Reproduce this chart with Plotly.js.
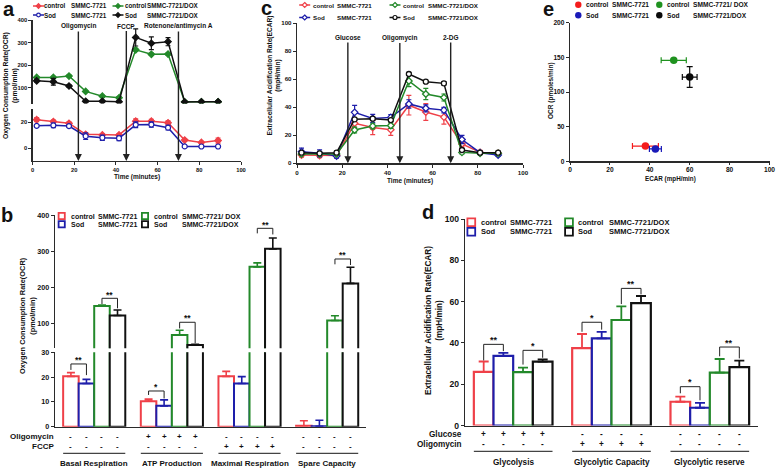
<!DOCTYPE html>
<html><head><meta charset="utf-8">
<script src="https://cdn.plot.ly/plotly-3.0.1.min.js"></script>
<style>html,body{margin:0;padding:0;background:#fff}#chart{width:778px;height:469px}</style>
</head><body><div id="chart"></div>
<script>
// ================= DATA =================
const timeMin = [2, 10, 17.5, 25.5, 33.5, 41.5, 49.5, 57, 65, 73, 81, 89];

// panel a : OCR time course (pmol/min)
const ocrCtrl       = [22, 20.5, 19.2, 10.6, 10.2, 10.2, 20.8, 20.8, 19.6, 6.2, 4.4, 5.8];
const ocrCtrlErr    = [1.5, 1.2, 1, 1, 1, 1, 1.8, 1.5, 1.5, 1, 0.8, 2];
const ocrSod        = [17.2, 17.6, 17, 9.2, 8, 7.6, 18, 18.2, 15.8, 1.3, 1.2, 1.2];
const ocrSodErr     = [1, 1.8, 1, 2.5, 2, 1.8, 2.2, 2, 1.8, 0.5, 0.4, 0.4];
const ocrCtrlDox    = [146, 146, 152, 84, 63, 56, 268, 248, 249, 38, 38, 38];
const ocrCtrlDoxErr = [4, 5, 4, 4, 4, 4, 6, 5, 5, 3, 3, 3];
const ocrSodDox     = [131, 127, 108, 40, 40, 38, 323, 297, 304, 37, 38, 38];
const ocrSodDoxErr  = [5, 15, 5, 4, 4, 4, 38, 28, 18, 3, 3, 3];
const aInjections   = ['Oligomycin', 'FCCP', 'Rotenone/antimycin A'];
const aInjectTime   = [22, 45, 70];

// panel c : ECAR time course (mpH/min)
const ecarCtrl       = [5.9, 5.5, 5.5, 28.6, 25.5, 24, 41.5, 36.6, 33, 13.8, 7.8, 7.1];
const ecarCtrlErr    = [1.5, 1.5, 1, 3, 5, 4, 7, 6, 5, 2, 1.5, 1];
const ecarSod        = [8.3, 7.1, 5.2, 36.4, 32, 32.8, 42.4, 39.3, 38, 17, 7.6, 5.9];
const ecarSodErr     = [2.5, 2.5, 1.5, 5, 3, 2, 3, 2.5, 2, 3, 1, 1];
const ecarCtrlDox    = [6.6, 6.6, 6.6, 23.8, 26.6, 27, 58.8, 49.5, 47, 7.8, 7.1, 7.1];
const ecarCtrlDoxErr = [1, 1, 1, 2, 2, 2, 4, 4, 2.5, 1, 1, 1];
const ecarSodDox     = [7.6, 7.1, 7.6, 31.4, 31.9, 30.9, 63.8, 58.3, 57.1, 9.5, 7.6, 7.6];
const ecarSodDoxErr  = [1, 1, 1, 1, 1, 1, 0.8, 0.8, 1.2, 1, 1, 1];
const cInjections    = ['Glucose', 'Oligomycin', '2-DG'];
const cInjectTime    = [22.5, 45.5, 68];

// panel e : OCR vs ECAR
const eEcar    = [37.8, 42.8, 52, 60];
const eEcarErr = [6.5, 3, 6.3, 3.7];
const eOcr     = [22, 17.8, 145.7, 121.6];
const eOcrErr  = [0, 0, 0, 15];

// panel b : OCR parameters
const bGroups     = ['Basal Respiration', 'ATP Production', 'Maximal Respiration', 'Spare Capacity'];
const bCtrl       = [20.3, 10.3, 20.3, 0.4];
const bCtrlErr    = [1.5, 0.8, 2, 2];
const bSod        = [17.4, 8.4, 17.4, 0.2];
const bSodErr     = [1.7, 2.4, 2.8, 2.4];
const bCtrlDox    = [147, 67, 256, 107];
const bCtrlDoxErr = [3, 13, 11, 13];
const bSodDox     = [121, 39, 306, 210];
const bSodDoxErr  = [15, 1.5, 30, 45];
const bOligomycin = ['----', '++++', '----', '----'];
const bFccp       = ['----', '----', '++++', '----'];
const bSigGroup   = [0, 0, 1, 1, 2, 3];
const bSigPair    = ['rb', 'gk', 'rb', 'gk', 'gk', 'gk'];
const bSigLevel   = [25.3, 168.6, 14.4, 102, 363, 277.8];
const bSigLeft    = [22.9, 152.7, 12.8, 85, 349, 263];
const bSigRight   = [20.8, 140.8, 11.4, 43.6, 346, 261];
const bSigText    = ['**', '**', '*', '**', '**', '**'];

// panel d : ECAR parameters
const dGroups     = ['Glycolysis', 'Glycolytic Capacity', 'Glycolytic reserve'];
const dCtrl       = [26, 37.5, 11.5];
const dCtrlErr    = [5, 6.8, 2.5];
const dSod        = [33.7, 42.2, 8.6];
const dSodErr     = [1.5, 3.1, 2.4];
const dCtrlDox    = [25.8, 51.1, 25.6];
const dCtrlDoxErr = [2.2, 6.6, 6.6];
const dSodDox     = [30.9, 59.3, 28.3];
const dSodDoxErr  = [1.1, 3.4, 3.1];
const dGlucose    = ['++++', '----', '----'];
const dOligomycin = ['----', '++++', '----'];
const dSigGroup   = [0, 0, 1, 1, 2, 2];
const dSigPair    = ['rb', 'gk', 'rb', 'gk', 'rb', 'gk'];
const dSigLevel   = [39.3, 36.4, 50, 66.4, 18.8, 38];
const dSigLeft    = [31.5, 29.5, 45.4, 58.8, 15.6, 33.5];
const dSigRight   = [36, 32.8, 46.4, 63.5, 12.2, 32.5];
const dSigText    = ['**', '*', '*', '**', '*', '**'];

// legend text
const seriesNames = ['control SMMC-7721', 'Sod SMMC-7721', 'control SMMC-7721/DOX', 'Sod SMMC-7721/DOX'];
const legTreat  = ['control', 'Sod', 'control', 'Sod'];
const legCell   = ['SMMC-7721', 'SMMC-7721', 'SMMC-7721/DOX', 'SMMC-7721/DOX'];
const legCellBE = ['SMMC-7721', 'SMMC-7721', 'SMMC-7721/ DOX', 'SMMC-7721/DOX'];

// ================= STYLE / HELPERS =================
const W = 778, H = 469;
const F = '"Liberation Sans", Arial, Helvetica, sans-serif';
const colors  = ['#ef4048', '#1e1eaa', '#23892a', '#111111'];
const eColors = ['#f41c1c', '#1a1ab8', '#1f921f', '#0a0a0a'];
const AX = '#2a2a2a';
const fx = p => p / W;
const fy = p => 1 - p / H;

function axis(extra, fs) {
  return Object.assign({
    showline: true, linecolor: AX, linewidth: 1.2, ticks: 'outside', ticklen: 3,
    tickwidth: 1, tickcolor: AX, showgrid: false, zeroline: false, fixedrange: true,
    tickfont: {family: F, size: fs, color: '#111', weight: 'bold'}
  }, extra);
}

const traces = [];
const ann = [];
const shapes = [];

// ---------- panel a traces ----------
const aSeries = [ocrCtrl, ocrSod, ocrCtrlDox, ocrSodDox];
const aErr = [ocrCtrlErr, ocrSodErr, ocrCtrlDoxErr, ocrSodDoxErr];
const aSym = ['diamond', 'circle', 'diamond', 'diamond'];
const aFill = [true, false, true, true];
aSeries.forEach((y, i) => traces.push({
  type: 'scatter', mode: 'lines+markers', x: timeMin, y: y, name: seriesNames[i],
  xaxis: 'x', yaxis: i < 2 ? 'y2' : 'y',
  line: {color: colors[i], width: 1.5},
  marker: {symbol: aSym[i], size: 5, color: aFill[i] ? colors[i] : '#fff', line: {color: colors[i], width: 1.2}},
  error_y: {type: 'data', array: aErr[i], color: colors[i], thickness: 1.2, width: 2.5},
  showlegend: false, hoverinfo: 'skip'
}));

// ---------- panel c traces ----------
const cSeries = [ecarCtrl, ecarSod, ecarCtrlDox, ecarSodDox];
const cErr = [ecarCtrlErr, ecarSodErr, ecarCtrlDoxErr, ecarSodDoxErr];
const cSym = ['diamond', 'diamond', 'diamond', 'circle'];
cSeries.forEach((y, i) => traces.push({
  type: 'scatter', mode: 'lines+markers', x: timeMin, y: y, name: seriesNames[i],
  xaxis: 'x3', yaxis: 'y3',
  line: {color: colors[i], width: 1.5},
  marker: {symbol: cSym[i], size: 5, color: '#fff', line: {color: colors[i], width: 1.3}},
  error_y: {type: 'data', array: cErr[i], color: colors[i], thickness: 1.2, width: 2.5},
  showlegend: false, hoverinfo: 'skip'
}));

// ---------- panel e traces ----------
eEcar.forEach((xv, i) => traces.push({
  type: 'scatter', mode: 'markers', x: [xv], y: [eOcr[i]], name: seriesNames[i],
  xaxis: 'x4', yaxis: 'y4',
  marker: {symbol: 'circle', size: 7.5, color: eColors[i]},
  error_x: {type: 'data', array: [eEcarErr[i]], color: eColors[i], thickness: 1.2, width: 3},
  error_y: {type: 'data', array: [eOcrErr[i]], visible: eOcrErr[i] > 0, color: eColors[i], thickness: 1.2, width: 3},
  showlegend: false, hoverinfo: 'skip'
}));

// ---------- panel b bars (broken axis: upper y5, lower y6) ----------
const bVals = [bCtrl, bSod, bCtrlDox, bSodDox];
const bErrs = [bCtrlErr, bSodErr, bCtrlDoxErr, bSodDoxErr];
const bIdx = bGroups.map((g, k) => k);
['y5', 'y6'].forEach(ya => bVals.forEach((v, i) => traces.push({
  type: 'bar', x: bIdx, y: v, name: seriesNames[i], xaxis: 'x5', yaxis: ya,
  marker: {color: '#fff', line: {color: colors[i], width: 2}},
  error_y: {type: 'data', symmetric: false, array: bErrs[i], arrayminus: v.map(() => 0), color: colors[i], thickness: 1.6, width: 4},
  showlegend: false, hoverinfo: 'skip'
})));

// ---------- panel d bars ----------
const dVals = [dCtrl, dSod, dCtrlDox, dSodDox];
const dErrs = [dCtrlErr, dSodErr, dCtrlDoxErr, dSodDoxErr];
const dIdx = dGroups.map((g, k) => k);
dVals.forEach((v, i) => traces.push({
  type: 'bar', x: dIdx, y: v, name: seriesNames[i], xaxis: 'x6', yaxis: 'y7',
  marker: {color: '#fff', line: {color: colors[i], width: 2.2}},
  error_y: {type: 'data', symmetric: false, array: dErrs[i], arrayminus: v.map(() => 0), color: colors[i], thickness: 1.8, width: 5},
  showlegend: false, hoverinfo: 'skip'
}));

// ---------- text helper ----------
function txt(x, y, t, size, extra) {
  return Object.assign({xref: 'paper', yref: 'paper', x: fx(x), y: fy(y), text: '<b>' + t + '</b>',
    showarrow: false, font: {family: F, size: size, color: '#111'}, xanchor: 'center', yanchor: 'middle'}, extra || {});
}

// panel letters
[['a', 8.5, 9], ['b', 7, 215], ['c', 266.5, 8.5], ['d', 428, 211.5], ['e', 548, 9]].forEach(p =>
  ann.push(txt(p[1], p[2], p[0], 20)));

// axis titles
ann.push(txt(11, 86, 'Oxygen Consumption Rate(OCR)<br>(pmol/min)', 6.8, {textangle: -90}));
ann.push(txt(137, 177, 'Time (minutes)', 6.5));
ann.push(txt(274.5, 76, 'Extracellular Acidification Rate(ECAR)<br>(mpH/min)', 6.6, {textangle: -90}));
ann.push(txt(410, 180.5, 'Time (minutes)', 6.5));
ann.push(txt(551, 91, 'OCR (pmoles/min)', 6.5, {textangle: -90}));
ann.push(txt(670.5, 178.5, 'ECAR (mpH/min)', 6.3));
ann.push(txt(27, 316, 'Oxygen Consumption Rate(OCR)<br>(pmol/min)', 7.4, {textangle: -90}));
ann.push(txt(434, 320, 'Extracellular Acidification Rate(ECAR)<br>(mpH/min)', 8.2, {textangle: -90}));

// injection arrows a & c
aInjections.forEach((lab, k) => ann.push({
  xref: 'x', yref: 'paper', x: aInjectTime[k], y: fy(161), ax: 0, ay: -(161 - 26),
  text: '<b>' + lab + '</b>', showarrow: true, arrowhead: 2, arrowsize: 1, arrowwidth: 1.4,
  arrowcolor: '#222', standoff: 0, font: {family: F, size: 6.5, color: '#111'}
}));
cInjections.forEach((lab, k) => ann.push({
  xref: 'x3', yref: 'paper', x: cInjectTime[k], y: fy(163.3), ax: 0, ay: -(163.3 - 37.5),
  text: '<b>' + lab + '</b>', showarrow: true, arrowhead: 2, arrowsize: 1, arrowwidth: 1.4,
  arrowcolor: '#222', standoff: 0, font: {family: F, size: 6.5, color: '#111'}
}));

// ---------- treatment rows, underlines, group labels ----------
function treatRows(xa, offsets, rows, rowY, rowLabels, labelRight, underY, groups, groupY, fs) {
  rows.forEach((row, r) => {
    ann.push(txt(labelRight, rowY[r], rowLabels[r], fs, {xanchor: 'right'}));
    row.forEach((s, g) => [...s].forEach((ch, j) => ann.push({
      xref: xa, yref: 'paper', x: g + offsets[j], y: fy(rowY[r]), text: '<b>' + ch + '</b>',
      showarrow: false, font: {family: F, size: fs, color: '#111'}, yanchor: 'middle'
    })));
  });
  groups.forEach((gname, g) => {
    shapes.push({type: 'line', xref: xa, yref: 'paper', x0: g - 0.4, x1: g + 0.4, y0: fy(underY), y1: fy(underY),
      line: {color: '#444', width: 1.3}});
    ann.push({xref: xa, yref: 'paper', x: g, y: fy(groupY), text: '<b>' + gname + '</b>', showarrow: false,
      font: {family: F, size: fs, color: '#111'}, yanchor: 'middle'});
  });
}
const barOff = [-0.3, -0.1, 0.1, 0.3];
treatRows('x5', barOff, [bOligomycin, bFccp], [436, 446.7], ['Oligomycin', 'FCCP'], 55.5, 453.3, bGroups, 463.3, 8);
treatRows('x6', barOff, [dGlucose, dOligomycin], [434, 444.3], ['Glucose', 'Oligomycin'], 463.5, 451.3, dGroups, 462.7, 8.2);

// ---------- significance brackets ----------
function brackets(xa, yaFor, grp, pair, lvl, le, re, tx, fs, shift) {
  grp.forEach((g, k) => {
    const xl = g + (pair[k] === 'rb' ? barOff[0] : barOff[2]);
    const xr = g + (pair[k] === 'rb' ? barOff[1] : barOff[3]);
    const ya = yaFor(lvl[k]);
    shapes.push({type: 'path', xref: xa, yref: ya,
      path: `M ${xl},${le[k]} L ${xl},${lvl[k]} L ${xr},${lvl[k]} L ${xr},${re[k]}`,
      line: {color: '#222', width: 1}});
    ann.push({xref: xa, yref: ya, x: (xl + xr) / 2, y: lvl[k], yshift: shift, text: '<b>' + tx[k] + '</b>',
      showarrow: false, yanchor: 'middle', font: {family: F, size: fs, color: '#111'}});
  });
}
brackets('x5', v => v < 30 ? 'y6' : 'y5', bSigGroup, bSigPair, bSigLevel, bSigLeft, bSigRight, bSigText, 8.5, 3.8);
brackets('x6', v => 'y7', dSigGroup, dSigPair, dSigLevel, dSigLeft, dSigRight, dSigText, 9, 4.2);

// ---------- legends (symbols as shapes, text as annotations) ----------
function legend(kind, symX, rowY, t1X, t2X, cells, fs, sz, syms, fills, cols) {
  for (let i = 0; i < 4; i++) {
    const col = i < 2 ? 0 : 1, row = i % 2;
    const sx = symX[col], sy = rowY[row];
    if (kind === 'line') {
      shapes.push({type: 'line', xref: 'paper', yref: 'paper', x0: fx(sx - 5.5), x1: fx(sx + 5.5), y0: fy(sy), y1: fy(sy),
        line: {color: cols[i], width: 1.5}});
      const r = sz;
      const fc = fills[i] ? cols[i] : '#fff';
      if (syms[i] === 'diamond') {
        shapes.push({type: 'path', xref: 'paper', yref: 'paper',
          path: `M ${fx(sx)},${fy(sy - r)} L ${fx(sx + r)},${fy(sy)} L ${fx(sx)},${fy(sy + r)} L ${fx(sx - r)},${fy(sy)} Z`,
          fillcolor: fc, line: {color: cols[i], width: 1.2}});
      } else {
        shapes.push({type: 'circle', xref: 'paper', yref: 'paper', x0: fx(sx - r * 0.8), x1: fx(sx + r * 0.8),
          y0: fy(sy + r * 0.8), y1: fy(sy - r * 0.8), fillcolor: fc, line: {color: cols[i], width: 1.2}});
      }
    } else if (kind === 'box') {
      shapes.push({type: 'rect', xref: 'paper', yref: 'paper', x0: fx(sx - sz / 2), x1: fx(sx + sz / 2),
        y0: fy(sy + sz / 2), y1: fy(sy - sz / 2), fillcolor: '#fff', line: {color: cols[i], width: 1.8}});
    } else {
      shapes.push({type: 'circle', xref: 'paper', yref: 'paper', x0: fx(sx - sz), x1: fx(sx + sz),
        y0: fy(sy + sz), y1: fy(sy - sz), fillcolor: cols[i], line: {color: cols[i], width: 0}});
    }
    ann.push(txt(t1X[col] - 1, sy, legTreat[i], fs, {xanchor: 'left'}));
    ann.push(txt(t2X[col] - 1, sy, cells[i], fs, {xanchor: 'left'}));
  }
}
legend('line', [38.5, 118], [6, 15], [43, 124], [69.8, 146], legCell, 6.3, 2.3, aSym, aFill, colors);
legend('line', [304.7, 395], [5, 17.5], [311.7, 401.7], [336, 426.5], legCell, 6.2, 2.5, cSym, [false, false, false, false], colors);
legend('dot', [578.3, 659.3], [4.7, 15.3], [585, 666], [610.5, 691.5], legCellBE, 6.6, 3.2, null, null, eColors);
legend('box', [61.7, 145], [216, 224.2], [70, 153.3], [97, 181], legCellBE, 7, 6.2, null, null, colors);
legend('box', [471.3, 569], [222.3, 231.7], [480, 576.7], [508.5, 608], legCell, 7.5, 7.8, null, null, colors);

// ================= LAYOUT =================
const layout = {
  width: W, height: H, margin: {l: 0, r: 0, t: 0, b: 0}, paper_bgcolor: '#fff', plot_bgcolor: 'rgba(0,0,0,0)',
  showlegend: false, barmode: 'group', bargap: 0.2, bargroupgap: 0,
  font: {family: F, color: '#111'},
  // a
  xaxis:  axis({domain: [fx(32.5), fx(241)], range: [0, 100], anchor: 'y2', tickvals: [0, 20, 40, 60, 80, 100]}, 5.8),
  yaxis:  axis({domain: [fy(103.6), fy(20)], range: [30, 400], anchor: 'x', tickvals: [100, 200, 300, 400]}, 5.8),
  yaxis2: axis({domain: [fy(161), fy(109.3)], range: [-10, 30], anchor: 'x', tickvals: [0, 20]}, 5.8),
  // c
  xaxis3: axis({domain: [fx(297), fx(523)], range: [0, 100], anchor: 'y3', tickvals: [0, 20, 40, 60, 80, 100]}, 6.2),
  yaxis3: axis({domain: [fy(163.3), fy(23.3)], range: [0, 100], anchor: 'x3', tickvals: [0, 20, 40, 60, 80, 100]}, 6.2),
  // e
  xaxis4: axis({domain: [fx(570), fx(769.5)], range: [0, 100], anchor: 'y4', tickvals: [0, 20, 40, 60, 80, 100], ticklen: 2}, 6.6),
  yaxis4: axis({domain: [fy(161.3), fy(22.7)], range: [0, 200], anchor: 'x4', tickvals: [0, 50, 100, 150, 200]}, 6.6),
  // b
  xaxis5: axis({domain: [fx(55), fx(366)], range: [-0.505, 3.5], anchor: 'y6', ticks: '', showticklabels: false}, 7),
  yaxis5: axis({domain: [fy(348.2), fy(215)], range: [30, 400], anchor: 'x5', tickvals: [100, 200, 300, 400]}, 7.2),
  yaxis6: axis({domain: [fy(426.7), fy(352.3)], range: [0, 30], anchor: 'x5', tickvals: [0, 10, 20, 30]}, 7.2),
  // d
  xaxis6: axis({domain: [fx(465), fx(758)], range: [-0.49, 2.49], anchor: 'y7', ticks: '', showticklabels: false}, 8),
  yaxis7: axis({domain: [fy(425.5), fy(219)], range: [0, 100], anchor: 'x6', tickvals: [0, 20, 40, 60, 80, 100]}, 8.6),
  annotations: ann,
  shapes: shapes
};

Plotly.newPlot('chart', traces, layout, {staticPlot: true, displayModeBar: false});
</script>
</body></html>
